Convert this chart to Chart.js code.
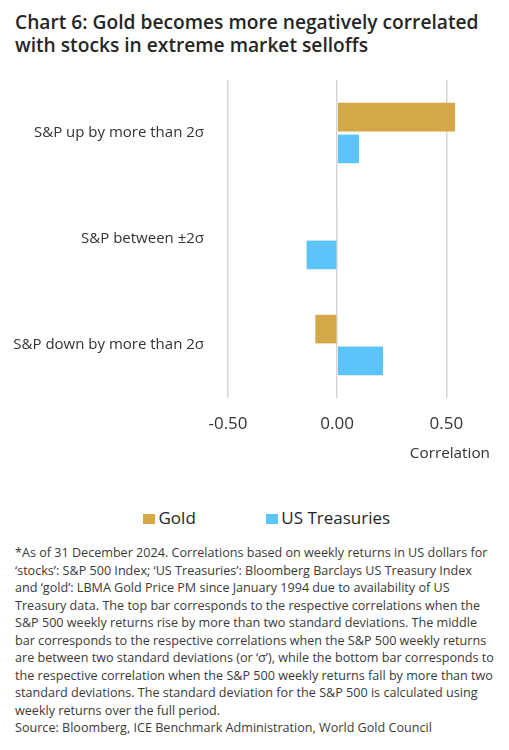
<!DOCTYPE html>
<html>
<head>
<meta charset="utf-8">
<script src="https://cdn.jsdelivr.net/npm/chart.js@4.4.1/dist/chart.umd.min.js"></script>
<style>
    body { margin: 0; background: #fff; font-family: "Open Sans", sans-serif; }
    #page { position: relative; width: 509px; height: 750px; overflow: hidden; }
    #title { position: absolute; left: 15px; top: 11px; font-size: 19.2px; font-weight: 600; color: #262626; line-height: 22.7px; white-space: nowrap; }
    #chartBox { position: absolute; left: 0; top: 70px; width: 509px; height: 400px; }
    #legend { position: absolute; top: 508px; left: 143px; font-size: 17px; line-height: 20px; color: #262626; white-space: nowrap; }
    #legend span.item { display: inline-block; margin-right: 70px; }
    #legend span.box { display: inline-block; width: 12px; height: 10px; margin-right: 3.5px; vertical-align: 0px; }
    #note { position: absolute; left: 15px; top: 544px; font-size: 12.6px; line-height: 17.5px; color: #3a3a3a; white-space: nowrap; }
</style>
</head>
<body>
<div id="page">
    <div id="title">Chart 6: Gold becomes more negatively correlated<br>with stocks in extreme market selloffs</div>
    <div id="chartBox"><canvas id="corrChart"></canvas></div>
    <div id="legend"></div>
    <div id="note">
        *As of 31 December 2024. Correlations based on weekly returns in US dollars for<br>
        ‘stocks’: S&amp;P 500 Index; ‘US Treasuries’: Bloomberg Barclays US Treasury Index<br>
        and ‘gold’: LBMA Gold Price PM since January 1994 due to availability of US<br>
        Treasury data. The top bar corresponds to the respective correlations when the<br>
        S&amp;P 500 weekly returns rise by more than two standard deviations. The middle<br>
        bar corresponds to the respective correlations when the S&amp;P 500 weekly returns<br>
        are between two standard deviations (or ‘σ’), while the bottom bar corresponds to<br>
        the respective correlation when the S&amp;P 500 weekly returns fall by more than two<br>
        standard deviations. The standard deviation for the S&amp;P 500 is calculated using<br>
        weekly returns over the full period.<br>
        Source: Bloomberg, ICE Benchmark Administration, World Gold Council
    </div>
</div>
<script>
// categories and values
const categories = ['S&P up by more than 2σ', 'S&P between ±2σ', 'S&P down by more than 2σ'];
const goldValues = [0.54, 0.003, -0.10];
const treasuryValues = [0.10, -0.14, 0.21];
const xTicks = [-0.5, 0, 0.5];

const seriesNames = ['Gold', 'US Treasuries'];
const seriesColors = ['#D4A847', '#5BC4F8'];

// legend
const legendBox = document.getElementById('legend');
seriesNames.forEach((name, i) => {
    const item = document.createElement('span');
    item.className = 'item';
    item.innerHTML = `<span class="box" style="background:${seriesColors[i]}"></span>${name}`;
    legendBox.appendChild(item);
});

const ctx = document.getElementById('corrChart').getContext('2d');
const corrChart = new Chart(ctx, {
    type: 'bar',
    data: {
        labels: categories,
        datasets: [{
            label: seriesNames[0],
            data: goldValues,
            backgroundColor: seriesColors[0]
        }, {
            label: seriesNames[1],
            data: treasuryValues,
            backgroundColor: seriesColors[1]
        }]
    },
    options: {
        indexAxis: 'y',
        responsive: true,
        maintainAspectRatio: false,
        animation: false,
        layout: { padding: { top: 10, right: 19, bottom: 0, left: 0 } },
        datasets: { bar: { categoryPercentage: 0.6, barPercentage: 0.9 } },
        scales: {
            x: {
                min: -0.5,
                max: 0.7,
                afterBuildTicks: function(axis) {
                    axis.ticks = xTicks.map(v => ({ value: v }));
                },
                afterFit: function(axis) { axis.height = 72; },
                border: { display: false },
                grid: { color: '#d6d6d6', lineWidth: 1.5, drawTicks: false },
                ticks: {
                    padding: 16,
                    color: '#333',
                    font: { family: 'Open Sans', size: 17 },
                    callback: function(value) { return value.toFixed(2); }
                },
                title: {
                    display: true,
                    text: 'Correlation',
                    align: 'end',
                    color: '#333',
                    font: { family: 'Open Sans', size: 15.3 },
                    padding: { top: 0, bottom: 7 }
                }
            },
            y: {
                border: { display: false },
                grid: { display: false },
                ticks: {
                    padding: 16,
                    color: '#333',
                    font: { family: 'Open Sans', size: 15 }
                },
                afterFit: function(axis) {
                    axis.width = 228;
                    axis.paddingTop = 0;
                    axis.paddingBottom = 0;
                }
            }
        },
        plugins: {
            legend: { display: false },
            tooltip: { enabled: false }
        }
    }
});
</script>
</body>
</html>
